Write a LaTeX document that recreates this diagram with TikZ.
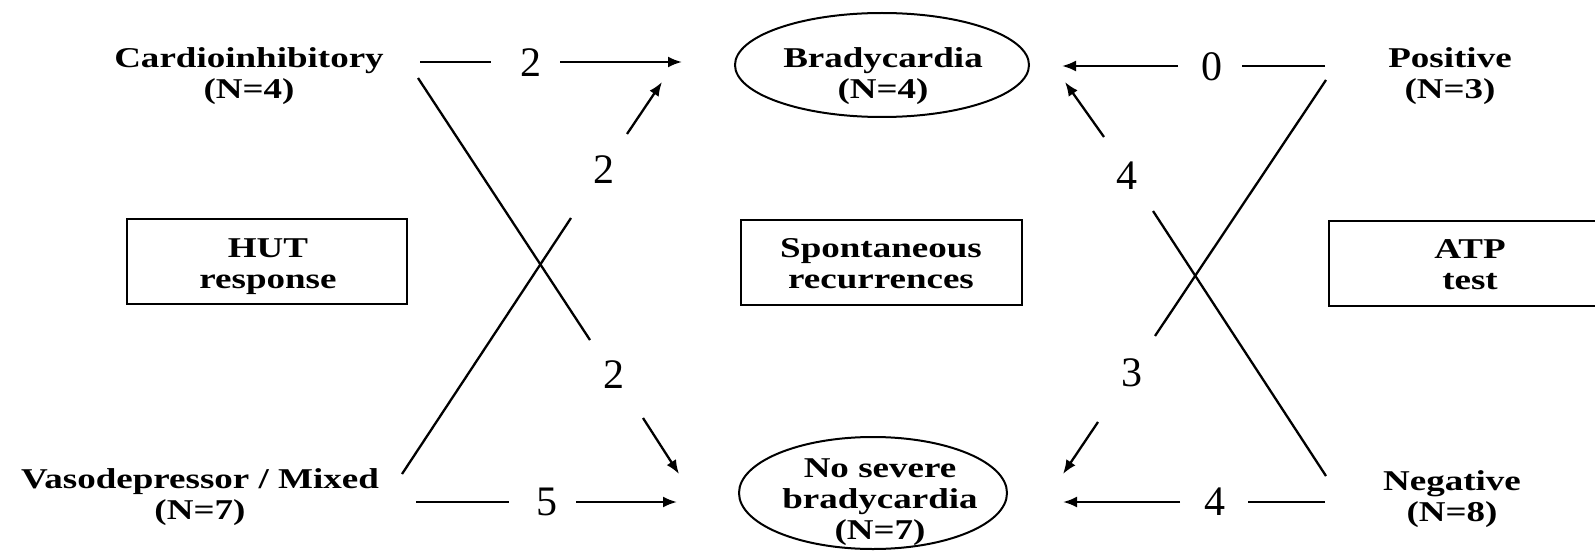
\documentclass[tikz,border=0pt]{standalone}
\usepackage{fontspec}
\setmainfont{Liberation Serif}
\usepackage{graphicx}
\usetikzlibrary{arrows.meta,shapes.geometric}
\newcommand{\wtxt}[1]{\scalebox{1.29}[1]{\begin{tabular}{@{}c@{}}#1\end{tabular}}}
\begin{document}
\begin{tikzpicture}[x=0.5pt,y=-0.5pt,
  lbl/.style={font=\fontsize{14.35}{15.5}\selectfont\bfseries, inner sep=0pt},
  num/.style={font=\fontsize{21}{21}\selectfont, inner sep=0pt},
  ln/.style={line width=1.15pt},
  arr/.style={line width=1.15pt, -{Latex[length=7pt,width=5.5pt]}},
  box/.style={draw, line width=1pt, inner sep=0pt},
  ell/.style={draw, ellipse, line width=1pt, inner sep=0pt}]
\useasboundingbox (0,0) rectangle (1595,551);
\clip (0,0) rectangle (1595,551);
% boxes and ellipses
\node[box, minimum width=140pt, minimum height=42.5pt] (hut) at (267,261.5) {};
\node[box, minimum width=140.5pt, minimum height=42.5pt] (spo) at (881.5,262.5) {};
\node[box, minimum width=150pt, minimum height=42.5pt, anchor=west] (atp) at (1328,263.5) {};
\node[ell, minimum width=147pt, minimum height=52pt] (br) at (882,65) {};
\node[ell, minimum width=134pt, minimum height=56pt] (ns) at (873,493) {};
% texts
\node[lbl] (ci) at (249,76.3) {\wtxt{Cardioinhibitory\\(N=4)}};
\node[lbl] (vm) at (200,497.3) {\wtxt{Vasodepressor / Mixed\\(N=7)}};
\node[lbl] (pos) at (1450,76.3) {\wtxt{Positive\\(N=3)}};
\node[lbl] (neg) at (1452,499.3) {\wtxt{Negative\\(N=8)}};
\node[lbl] (hutt) at (268,267) {\wtxt{HUT\\response}};
\node[lbl] (spot) at (881,267) {\wtxt{Spontaneous\\recurrences}};
\node[lbl] (atpt) at (1470,268) {\wtxt{ATP\\test}};
\node[lbl] (brt) at (883,76.3) {\wtxt{Bradycardia\\(N=4)}};
\node[lbl] (nst) at (880,501.8) {\wtxt{No severe\\bradycardia\\(N=7)}};
% numbers
\node[num] (n1) at (531,63) {2};
\node[num] (n2) at (604,170) {2};
\node[num] (n3) at (614,375) {2};
\node[num] (n4) at (547,502) {5};
\node[num] (n5) at (1212,67) {0};
\node[num] (n6) at (1127,176) {4};
\node[num] (n7) at (1132,373) {3};
\node[num] (n8) at (1215,502) {4};
% endpoints
\coordinate (a1s) at (420,62); \coordinate (a1m) at (491,62); \coordinate (a1t) at (560,62); \coordinate (a1e) at (682,62);
\coordinate (a4s) at (416,502); \coordinate (a4m) at (509,502); \coordinate (a4t) at (576,502); \coordinate (a4e) at (677,502);
\coordinate (a5s) at (1325,66); \coordinate (a5m) at (1242,66); \coordinate (a5t) at (1178,66); \coordinate (a5e) at (1062,66);
\coordinate (a8s) at (1325,502); \coordinate (a8m) at (1248,502); \coordinate (a8t) at (1180,502); \coordinate (a8e) at (1063,502);
\coordinate (a3s) at (418,78); \coordinate (a3m) at (590,340); \coordinate (a3t) at (643,418); \coordinate (a3e) at (679,474);
\coordinate (a2s) at (402,474); \coordinate (a2m) at (571,218); \coordinate (a2t) at (627,134); \coordinate (a2e) at (662,82);
\coordinate (a6s) at (1326,476); \coordinate (a6m) at (1153,211); \coordinate (a6t) at (1104,137); \coordinate (a6e) at (1065,82);
\coordinate (a7s) at (1326,80); \coordinate (a7m) at (1155,336); \coordinate (a7t) at (1098,422); \coordinate (a7e) at (1063,474);
% connectors
\draw[ln] (a1s) -- (a1m); \draw[arr] (a1t) -- (a1e);
\draw[ln] (a4s) -- (a4m); \draw[arr] (a4t) -- (a4e);
\draw[ln] (a5s) -- (a5m); \draw[arr] (a5t) -- (a5e);
\draw[ln] (a8s) -- (a8m); \draw[arr] (a8t) -- (a8e);
\draw[ln] (a3s) -- (a3m); \draw[arr] (a3t) -- (a3e);
\draw[ln] (a2s) -- (a2m); \draw[arr] (a2t) -- (a2e);
\draw[ln] (a6s) -- (a6m); \draw[arr] (a6t) -- (a6e);
\draw[ln] (a7s) -- (a7m); \draw[arr] (a7t) -- (a7e);
\end{tikzpicture}
\end{document}
